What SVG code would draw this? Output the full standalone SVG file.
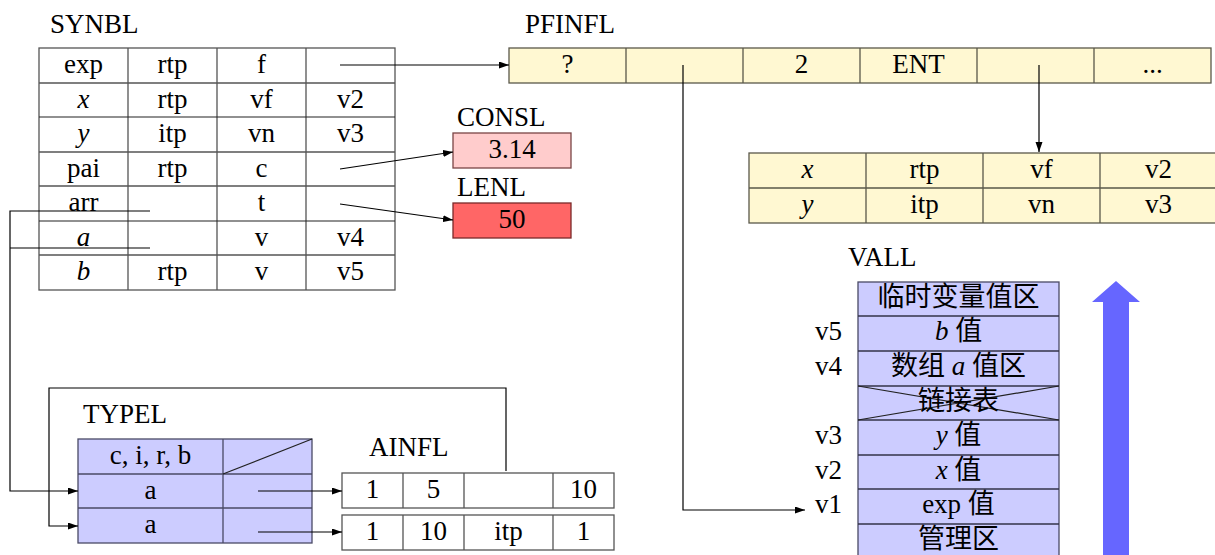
<svg xmlns="http://www.w3.org/2000/svg" width="1215" height="555" viewBox="0 0 1215 555">
<defs>
<marker id="ah" markerUnits="userSpaceOnUse" markerWidth="11" markerHeight="8" refX="10" refY="3.5" orient="auto">
<path d="M0,0 L10,3.5 L0,7 z" fill="#000"/>
</marker>
<style>
text{font-family:'Liberation Serif',Tinos,'Times New Roman','DejaVu Serif',serif;font-size:27px;fill:#000}
.c{text-anchor:middle}
.i{font-style:italic}
.cjk{font-family:'Liberation Serif',Tinos,'Noto Sans CJK SC',serif}
.g{fill:none;stroke:#555;stroke-width:1.3}
.w{fill:#fff;stroke:#555;stroke-width:1.3}
.y{fill:#FFF8D2;stroke:#5a584a;stroke-width:1.3}
.v{fill:#CCCCFF;stroke:#4a4a66;stroke-width:1.3}
.k{stroke:#222;stroke-width:1.2;fill:none}
.cn{fill:none;stroke:#000;stroke-width:1.2}
</style>
</defs>
<rect width="1215" height="555" fill="#fff"/>

<g id="synbl">
<text x="50" y="33">SYNBL</text>
<rect class="w" x="39" y="48" width="356" height="242"/>
<path class="g" d="M128,48V290M217,48V290M306,48V290M39,83H395M39,152H395M39,186H395M39,255H395"/>
<path class="k" d="M39,117H395M39,221H395"/>
<text class="c" x="83.5" y="73">exp</text><text class="c" x="172.5" y="73">rtp</text><text class="c" x="261.5" y="73">f</text>
<text class="c i" x="83.5" y="108">x</text><text class="c" x="172.5" y="108">rtp</text><text class="c" x="261.5" y="108">vf</text><text class="c" x="350.5" y="108">v2</text>
<text class="c i" x="83.5" y="142">y</text><text class="c" x="172.5" y="142">itp</text><text class="c" x="261.5" y="142">vn</text><text class="c" x="350.5" y="142">v3</text>
<text class="c" x="83.5" y="177">pai</text><text class="c" x="172.5" y="177">rtp</text><text class="c" x="261.5" y="177">c</text>
<text class="c" x="83.5" y="211">arr</text><text class="c" x="261.5" y="211">t</text>
<text class="c i" x="83.5" y="246">a</text><text class="c" x="261.5" y="246">v</text><text class="c" x="350.5" y="246">v4</text>
<text class="c i" x="83.5" y="280">b</text><text class="c" x="172.5" y="280">rtp</text><text class="c" x="261.5" y="280">v</text><text class="c" x="350.5" y="280">v5</text>
</g>

<g id="pfinfl">
<text x="525" y="33">PFINFL</text>
<rect class="y" x="509" y="48" width="702" height="35"/>
<path class="g" d="M626,48V83M743,48V83M860,48V83M977,48V83M1094,48V83" style="stroke:#5a584a"/>
<text class="c" x="567.5" y="73">?</text>
<text class="c" x="801.5" y="73">2</text>
<text class="c" x="918.5" y="73">ENT</text>
<text class="c" x="1152.5" y="73">...</text>
</g>

<g id="paramtable">
<rect class="y" x="749" y="153" width="468" height="70"/>
<path class="g" d="M866,153V223M983,153V223M1100,153V223M749,188H1217" style="stroke:#5a584a"/>
<text class="c i" x="807.5" y="178">x</text><text class="c" x="924.5" y="178">rtp</text><text class="c" x="1041.5" y="178">vf</text><text class="c" x="1158.5" y="178">v2</text>
<text class="c i" x="807.5" y="213">y</text><text class="c" x="924.5" y="213">itp</text><text class="c" x="1041.5" y="213">vn</text><text class="c" x="1158.5" y="213">v3</text>
</g>

<g id="consl">
<text x="457" y="126">CONSL</text>
<rect x="453" y="133" width="118" height="35" fill="#FFCCCC" stroke="#7a4545" stroke-width="1.3"/>
<text class="c" x="512" y="158">3.14</text>
</g>

<g id="lenl">
<text x="457" y="196">LENL</text>
<rect x="453" y="203" width="118" height="35" fill="#FF6666" stroke="#7a2a2a" stroke-width="1.3"/>
<text class="c" x="512" y="228">50</text>
</g>

<g id="typel">
<text x="83" y="423">TYPEL</text>
<rect class="v" x="78" y="439" width="234" height="104"/>
<path class="g" d="M223,439V543M78,474H312M78,508H312" style="stroke:#4a4a66"/>
<path class="k" d="M223,474L312,439"/>
<text class="c" x="150.5" y="464">c, i, r, b</text>
<text class="c" x="150.5" y="499">a</text>
<text class="c" x="150.5" y="533">a</text>
</g>

<g id="ainfl">
<text x="369" y="456">AINFL</text>
<rect class="w" x="342" y="473" width="272" height="35"/>
<path class="g" d="M403,473V508M464,473V508M553,473V508"/>
<text class="c" x="372.5" y="498">1</text><text class="c" x="433.5" y="498">5</text><text class="c" x="583.5" y="498">10</text>
<rect class="w" x="342" y="515" width="272" height="35"/>
<path class="g" d="M403,515V550M464,515V550M553,515V550"/>
<text class="c" x="372.5" y="540">1</text><text class="c" x="433.5" y="540">10</text><text class="c" x="508.5" y="540">itp</text><text class="c" x="583.5" y="540">1</text>
</g>

<g id="vall">
<text x="848" y="266">VALL</text>
<rect class="v" x="858" y="282" width="201" height="280"/>
<path class="g" d="M858,316H1059M858,351H1059M858,386H1059M858,420H1059M858,455H1059M858,489H1059M858,524H1059" style="stroke:#33334a"/>
<path class="k" d="M858,386L1059,420M858,420L1059,386"/>
<text class="c cjk" x="958.5" y="306">临时变量值区</text>
<text class="c cjk" x="958.5" y="340"><tspan class="i">b</tspan> 值</text>
<text class="c cjk" x="958.5" y="375">数组 <tspan class="i">a</tspan> 值区</text>
<text class="c cjk" x="958.5" y="410">链接表</text>
<text class="c cjk" x="958.5" y="444"><tspan class="i">y</tspan> 值</text>
<text class="c cjk" x="958.5" y="479"><tspan class="i">x</tspan> 值</text>
<text class="c cjk" x="958.5" y="513">exp 值</text>
<text class="c cjk" x="958.5" y="548">管理区</text>
<text x="815" y="340">v5</text>
<text x="815" y="375">v4</text>
<text x="815" y="444">v3</text>
<text x="815" y="479">v2</text>
<text x="815" y="513">v1</text>
<polygon points="1103,556 1103,302 1092,302 1116,281 1140,302 1129,302 1129,556" fill="#6666FF"/>
</g>

<g id="connectors">
<path class="cn" d="M340,65H509" marker-end="url(#ah)"/>
<path class="cn" d="M340,169L453,152" marker-end="url(#ah)"/>
<path class="cn" d="M340,204L453,220" marker-end="url(#ah)"/>
<path class="cn" d="M683,65V510H805" marker-end="url(#ah)"/>
<path class="cn" d="M1039,65V152" marker-end="url(#ah)"/>
<path class="cn" d="M150,211H10V491H78" marker-end="url(#ah)"/>
<path class="cn" d="M150,248H10"/>
<path class="cn" d="M506,471V388H49V526H78" marker-end="url(#ah)"/>
<path class="cn" d="M258,491H342" marker-end="url(#ah)"/>
<path class="cn" d="M258,532H342" marker-end="url(#ah)"/>
</g>
</svg>
